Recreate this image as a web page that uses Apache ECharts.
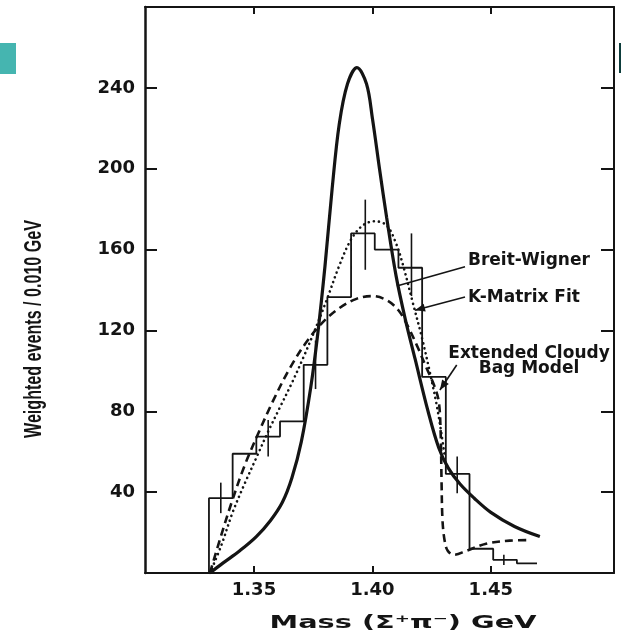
<!DOCTYPE html>
<html>
<head>
<meta charset="utf-8">
<script src="https://cdn.jsdelivr.net/npm/echarts@6/dist/echarts.min.js"></script>
<style>
  html, body { margin: 0; padding: 0; background: #fff; }
  #chart { width: 621px; height: 633px; }
</style>
</head>
<body>
<div id="chart"></div>
<script>
// histogram, 0.010 GeV bins
var binEdges = [1.331, 1.341, 1.351, 1.361, 1.371, 1.381, 1.391, 1.401, 1.411, 1.421, 1.431, 1.441, 1.451, 1.461, 1.4695];
var binCounts = [37, 59, 67.5, 75, 103, 136.5, 168, 160, 151, 97, 49, 12, 6.5, 4.8];

// error bars (every other bin)
var errX = [1.336, 1.356, 1.376, 1.397, 1.4165, 1.4358, 1.4555];
var errLow = [29.6, 57.6, 91, 150, 137, 39.5, 4];
var errHigh = [44.7, 75.7, 115, 184.7, 168, 57.6, 9];

// Breit-Wigner (solid)
var bwX = [1.3314, 1.3370, 1.3440, 1.3510, 1.3570, 1.3620, 1.3660, 1.3700, 1.3740, 1.3770, 1.3800, 1.3830, 1.3860, 1.3895, 1.3935, 1.3975, 1.4000, 1.4030, 1.4060, 1.4100, 1.4140, 1.4180, 1.4235, 1.4280, 1.4320, 1.4370, 1.4430, 1.4500, 1.4600, 1.4707];
var bwY = [0, 5, 11, 18, 26, 35, 47, 65, 92, 119, 152, 190, 222, 242, 250, 242, 225, 200, 176, 147, 125, 106, 80, 62, 52, 44, 37, 30, 23, 18];

// K-matrix fit (dotted)
var kmX = [1.3314, 1.3360, 1.3410, 1.3460, 1.3510, 1.3560, 1.3610, 1.3660, 1.3710, 1.3760, 1.3810, 1.3860, 1.3910, 1.3960, 1.4010, 1.4060, 1.4100, 1.4130, 1.4170, 1.4210, 1.4245, 1.4270, 1.4290, 1.4305];
var kmY = [0, 13, 30, 44, 57, 70, 82, 94, 107, 121, 136, 152, 165, 172, 174, 172, 163, 152, 134, 116, 98, 84, 70, 58];

// extended cloudy bag model (dashed)
var cbX = [1.3314, 1.3360, 1.3406, 1.3460, 1.3518, 1.3580, 1.3650, 1.3720, 1.3790, 1.3860, 1.3930, 1.4000, 1.4060, 1.4110, 1.4150, 1.4190, 1.4230, 1.4260, 1.4280, 1.4288, 1.4292, 1.4296, 1.4305, 1.4318, 1.4345, 1.4397, 1.4480, 1.4580, 1.4665];
var cbY = [0, 18, 35, 53, 69, 85, 101, 114, 124, 131, 135.5, 137, 135, 130, 122, 112, 101, 93, 85, 70, 45, 26, 16, 11, 9, 11, 14.5, 16, 16.3];

var xTicks = [1.35, 1.40, 1.45];

// arrows: tail -> tip, in data units
var noteTail = [[1.4391, 151.5], [1.4391, 136.5], [1.4356, 102.9]];
var noteTip = [[1.4103, 142], [1.4180, 130], [1.4285, 90.5]];
var noteHead = [0, 1, 1];

function zip(xs, ys) {
  return xs.map(function (x, i) { return [x, ys[i]]; });
}

var histData = [[binEdges[0], 0]];
binCounts.forEach(function (v, i) { histData.push([binEdges[i], v]); });
histData.push([binEdges[binEdges.length - 1], binCounts[binCounts.length - 1]]);

var ink = '#141414';
var tickFont = { fontSize: 18, fontWeight: 'bold', fontFamily: 'DejaVu Sans', color: ink };

// stretch a label to a given width (the scanned lettering is wider/narrower than our fonts)
function fitScale(text, font, target) {
  var ctx = document.createElement('canvas').getContext('2d');
  ctx.font = font;
  return target / ctx.measureText(text).width;
}

var xNameFont = 'bold 18px "DejaVu Sans"';
var xName = 'Mass (Σ⁺π⁻) GeV';
var yNameFont = 'bold 23px "Liberation Sans"';
var yName = 'Weighted events / 0.010 GeV';
var noteFont = 'bold 17px "DejaVu Sans"';

var chart = echarts.init(document.getElementById('chart'));
chart.setOption({
  animation: false,
  backgroundColor: '#fff',
  grid: { left: 145, right: 7, top: 7, bottom: 60, outerBoundsMode: 'none' },
  xAxis: [{
    type: 'value', min: 1.304, max: 1.502, position: 'bottom',
    axisLine: { onZero: false, lineStyle: { color: ink, width: 2 } },
    axisTick: { inside: true, length: 7, customValues: xTicks, lineStyle: { width: 2 } },
    axisLabel: Object.assign({ customValues: xTicks, margin: 8, formatter: function (v) { return v.toFixed(2); } }, tickFont),
    splitLine: { show: false }
  }, {
    type: 'value', min: 1.304, max: 1.502, position: 'top',
    axisLine: { onZero: false, lineStyle: { color: ink, width: 2 } },
    axisTick: { inside: true, length: 7, customValues: xTicks, lineStyle: { width: 2 } },
    axisLabel: { show: false },
    splitLine: { show: false }
  }],
  yAxis: [{
    type: 'value', min: 0, max: 280, interval: 40, position: 'left',
    axisLine: { show: true, onZero: false, lineStyle: { color: ink, width: 2.5 } },
    axisTick: { show: true, inside: true, length: 12, lineStyle: { width: 2 } },
    axisLabel: Object.assign({ margin: 10, formatter: function (v) { return (v === 0 || v === 280) ? '' : v; } }, tickFont),
    splitLine: { show: false }
  }, {
    type: 'value', min: 0, max: 280, interval: 40, position: 'right',
    axisLine: { show: true, onZero: false, lineStyle: { color: ink, width: 2 } },
    axisTick: { show: true, inside: true, length: 13, lineStyle: { width: 2 } },
    axisLabel: { show: false },
    splitLine: { show: false }
  }],
  graphic: [
    { type: 'rect', shape: { x: 0, y: 43, width: 16, height: 31 }, style: { fill: '#45b5b0' } },
    { type: 'rect', shape: { x: 619, y: 43, width: 2, height: 30 }, style: { fill: '#0d3d3b' } },
    { type: 'text', x: 35, y: 329, rotation: Math.PI / 2, scaleX: fitScale(yName, yNameFont, 218),
      style: { text: yName, font: yNameFont, fill: ink, align: 'center', verticalAlign: 'middle' } },
    { type: 'text', x: 403, y: 623, scaleX: fitScale(xName, xNameFont, 267),
      style: { text: xName, font: xNameFont, fill: ink, align: 'center', verticalAlign: 'middle' } },
    { type: 'text', x: 468, y: 261, style: { text: 'Breit-Wigner', font: noteFont, fill: ink, align: 'left', verticalAlign: 'middle' } },
    { type: 'text', x: 468, y: 298, style: { text: 'K-Matrix Fit', font: noteFont, fill: ink, align: 'left', verticalAlign: 'middle' } },
    { type: 'text', x: 529, y: 361, style: { text: 'Extended Cloudy\nBag Model', font: noteFont, lineHeight: 15, fill: ink, align: 'center', verticalAlign: 'middle' } }
  ],
  series: [
    {
      name: 'data', type: 'line', step: 'end', data: histData, symbol: 'none',
      lineStyle: { color: ink, width: 1.8 }, z: 2
    },
    {
      name: 'errors', type: 'custom', silent: true, z: 3,
      data: errX.map(function (x, i) { return [x, errLow[i], errHigh[i]]; }),
      encode: { x: 0, y: [1, 2] },
      renderItem: function (params, api) {
        var a = api.coord([api.value(0), api.value(1)]);
        var b = api.coord([api.value(0), api.value(2)]);
        return { type: 'line', shape: { x1: a[0], y1: a[1], x2: b[0], y2: b[1] }, style: { stroke: ink, lineWidth: 1.6 } };
      }
    },
    {
      name: 'Breit-Wigner', type: 'line', data: zip(bwX, bwY), smooth: 0.35,
      symbol: 'none', lineStyle: { color: ink, width: 3.2 }, z: 4
    },
    {
      name: 'K-Matrix Fit', type: 'line', data: zip(kmX, kmY), smooth: 0.35,
      symbol: 'none', lineStyle: { color: ink, width: 2.6, type: [0.1, 5], cap: 'round' }, z: 4
    },
    {
      name: 'Extended Cloudy Bag Model', type: 'line', data: zip(cbX, cbY), smooth: 0.35,
      symbol: 'none', lineStyle: { color: ink, width: 2.6, type: [8, 5] }, z: 4
    },
    {
      name: 'arrows', type: 'custom', silent: true, z: 5,
      data: noteTail.map(function (t, i) { return [t[0], t[1], noteTip[i][0], noteTip[i][1], noteHead[i]]; }),
      encode: { x: [0, 2], y: [1, 3] },
      renderItem: function (params, api) {
        var a = api.coord([api.value(0), api.value(1)]);
        var b = api.coord([api.value(2), api.value(3)]);
        var kids = [{ type: 'line', shape: { x1: a[0], y1: a[1], x2: b[0], y2: b[1] }, style: { stroke: ink, lineWidth: 1.6 } }];
        if (api.value(4)) {
          var dx = b[0] - a[0], dy = b[1] - a[1], len = Math.sqrt(dx * dx + dy * dy);
          var ux = dx / len, uy = dy / len, L = 10, W = 4;
          kids.push({ type: 'polygon', shape: { points: [
            [b[0], b[1]],
            [b[0] - ux * L - uy * W, b[1] - uy * L + ux * W],
            [b[0] - ux * L + uy * W, b[1] - uy * L - ux * W]
          ] }, style: { fill: ink } });
        }
        return { type: 'group', children: kids };
      }
    }
  ]
});
</script>
</body>
</html>
